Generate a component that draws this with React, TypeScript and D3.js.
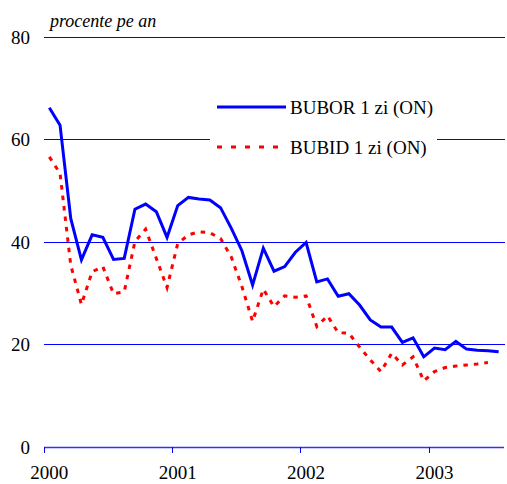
import React from "react";
import * as d3 from "d3";

// monthly averages, Jan 2000 .. Jul 2003
const years = ["2000", "2001", "2002", "2003"];
const yTicks = [0, 20, 40, 60, 80];
const seriesNames = ["BUBOR 1 zi (ON)", "BUBID 1 zi (ON)"];
const unitLabel = "procente pe an";

const bubor = [
  66.2, 62.8, 44.6, 36.5, 41.4, 40.9, 36.6, 36.8, 46.4, 47.4, 45.9, 40.9,
  47.1, 48.7, 48.4, 48.2, 46.7, 42.7, 38.3, 31.6, 38.8, 34.3, 35.2, 38.0,
  39.9, 32.2, 32.8, 29.4, 29.9, 27.7, 24.8, 23.4, 23.4, 20.4, 21.3, 17.6,
  19.3, 19.0, 20.6, 19.1, 18.9, 18.8, 18.6,
];
const bubid = [
  56.6, 53.4, 35.5, 27.8, 34.2, 35.2, 29.9, 30.3, 40.1, 42.5, 36.8, 31.1,
  39.7, 41.4, 42.0, 41.8, 40.7, 37.1, 31.3, 24.5, 30.8, 27.4, 29.5, 29.2,
  29.5, 23.5, 25.6, 22.3, 22.2, 19.5, 17.0, 14.7, 18.3, 16.0, 17.6, 12.9,
  14.7, 15.5, 15.8, 16.0, 16.2, 16.5,
];

// month keys "2000-1" .. "2003-7", plus one empty slot at the end
const months: string[] = [];
years.forEach((y) => {
  for (let m = 1; m <= 12; m++) months.push(`${y}-${m}`);
});
months.splice(43);

const font = "Liberation Serif";

const x = d3.scaleBand().domain(months).range([44, 504]).padding(0);
const y = d3.scaleLinear().domain([0, 80]).range([447, 37]);
const cx = (i: number) => (x(months[i]) as number) + x.bandwidth() / 2;
const crisp = (v: number) => Math.floor(v) + 0.5;

const line = d3
  .line<number>()
  .x((_, i) => cx(i))
  .y((d) => y(d));

const styles = [
  { color: "#0000ff", dash: undefined as string | undefined },
  { color: "#ff0000", dash: "4.5,6" },
];

export default function App() {
  return (
    <svg
      width={507}
      height={484}
      style={{ position: "absolute", left: 0, top: 0, background: "#fff" }}
    >
      {/* gridlines */}
      {yTicks
        .filter((d) => d > 0)
        .map((d) => (
          <line
            key={d}
            x1={44}
            x2={505}
            y1={crisp(y(d))}
            y2={crisp(y(d))}
            stroke="#0000ff"
            strokeWidth={1}
          />
        ))}

      {/* y labels */}
      {yTicks.map((d) => (
        <text key={d} x={30} y={y(d) + 6.5} textAnchor="end" fontFamily={font} fontSize={19}>
          {d}
        </text>
      ))}

      {/* x axis */}
      <line x1={44} x2={504} y1={crisp(y(0))} y2={crisp(y(0))} stroke="#3030ff" strokeWidth={1.5} />
      {years.map((d) => (
        <line
          key={d}
          x1={crisp(x(`${d}-1`) as number)}
          x2={crisp(x(`${d}-1`) as number)}
          y1={y(0)}
          y2={y(0) + 6}
          stroke="#0000ff"
          strokeWidth={1}
        />
      ))}
      {years.map((d) => (
        <text
          key={d}
          x={(x(`${d}-1`) as number) + x.bandwidth() / 2}
          y={479}
          textAnchor="middle"
          fontFamily={font}
          fontSize={19}
        >
          {d}
        </text>
      ))}

      <text x={50} y={27} fontFamily={font} fontStyle="italic" fontSize={18}>
        {unitLabel}
      </text>

      {/* legend box hides the gridline behind it */}
      <rect x={210} y={88} width={227} height={77} fill="#fff" />

      <path
        d={line(bubid) ?? ""}
        fill="none"
        stroke={styles[1].color}
        strokeWidth={3}
        strokeDasharray={styles[1].dash}
      />
      <path d={line(bubor) ?? ""} fill="none" stroke={styles[0].color} strokeWidth={3} />

      {seriesNames.map((name, i) => (
        <g key={name}>
          <line
            x1={217}
            x2={286}
            y1={107 + i * 40}
            y2={107 + i * 40}
            stroke={styles[i].color}
            strokeWidth={3}
            strokeDasharray={i === 1 ? "5,9" : undefined}
          />
          <text x={290} y={114 + i * 40} fontFamily={font} fontSize={19}>
            {name}
          </text>
        </g>
      ))}
    </svg>
  );
}
